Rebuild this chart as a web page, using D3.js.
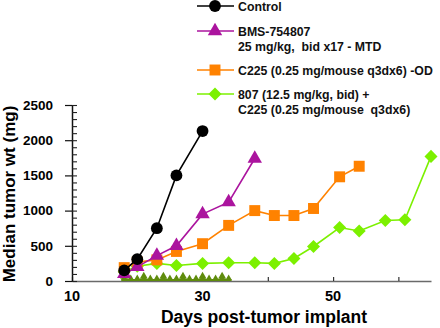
<!DOCTYPE html>
<html>
<head>
<meta charset="utf-8">
<script src="https://cdn.jsdelivr.net/npm/d3@7"></script>
<style>
  body { margin: 0; background: #fff; }
  svg { font-family: "Liberation Sans", Arial, sans-serif; font-weight: bold; }
  text { white-space: pre; }
</style>
</head>
<body>
<div id="chart"></div>
<script>
// Median tumor weight by day for each group
const controlDays = [18, 20, 23, 26, 30];
const controlWt = [150, 310, 750, 1500, 2130];

const bmsDays = [18, 20, 23, 26, 30, 34, 38];
const bmsWt = [100, 200, 360, 500, 950, 1120, 1740];

const c225Days = [18, 20, 23, 26, 30, 34, 38, 41, 44, 47, 51, 54];
const c225Wt = [190, 270, 300, 420, 530, 790, 1000, 930, 930, 1030, 1480, 1630];

const comboDays = [18, 20, 23, 26, 30, 34, 38, 41, 44, 47, 51, 54, 58, 61, 65];
const comboWt = [130, 210, 250, 220, 250, 260, 260, 250, 320, 490, 760, 710, 860, 870, 1770];

// Dosing days shown as small triangles on the baseline
const bidDays = [18, 19, 20, 21, 22, 23, 24, 25, 26, 27, 28, 29, 30, 31, 32, 33, 34];
const q3dDays = [18, 21, 24, 27, 30, 33];

const yTicks = [0, 500, 1000, 1500, 2000, 2500];
const xTicks = [10, 20, 30, 40, 50, 60];
const xLabels = [10, 30, 50];

const W = 440, H = 328;

const svg = d3.select("#chart").append("svg")
  .attr("width", W)
  .attr("height", H);

const x = d3.scaleLinear().domain([10, 65]).range([72, 431]);
const y = d3.scaleLinear().domain([0, 2500]).range([281, 105]);

// x axis
const xAxis = svg.append("g")
  .attr("transform", `translate(0, ${y(0)})`)
  .call(d3.axisTop(x).tickValues(xTicks).tickSize(4).tickSizeOuter(0).tickFormat(""));
xAxis.select("path.domain").attr("stroke", "#6a6a6a").attr("stroke-width", 1.6);
xAxis.selectAll(".tick line").attr("stroke", "#333").attr("stroke-width", 1.2);

svg.append("g")
  .selectAll("text")
  .data(xLabels)
  .enter()
  .append("text")
  .attr("x", (d) => x(d))
  .attr("y", 301)
  .attr("text-anchor", "middle")
  .style("font-size", "14.5px")
  .text((d) => d);

// y axis: major ticks to the left, minor every 100 to the right
const yAxis = svg.append("g")
  .attr("transform", `translate(${x(10)}, 0)`)
  .call(d3.axisLeft(y).tickValues(yTicks).tickFormat(d3.format("d"))
    .tickSize(7).tickSizeOuter(0).tickPadding(12));
yAxis.select("path.domain").attr("stroke", "#111").attr("stroke-width", 1.5);
yAxis.selectAll(".tick line").attr("stroke", "#111").attr("stroke-width", 1.2);
yAxis.selectAll("text")
  .attr("fill", "#000")
  .style("font-size", "13.5px")
  .style("font-weight", "bold")
  .style("font-family", "'Liberation Sans', Arial, sans-serif");

const minor = svg.append("g")
  .attr("transform", `translate(${x(10)}, 0)`)
  .call(d3.axisRight(y).ticks(25).tickSize(5).tickSizeOuter(0).tickFormat(""));
minor.select("path.domain").remove();
minor.selectAll(".tick line").attr("stroke", "#222").attr("stroke-width", 1.1);

// axis titles
svg.append("text")
  .attr("x", 264)
  .attr("y", 323)
  .attr("text-anchor", "middle")
  .style("font-size", "17.5px")
  .text("Days post-tumor implant");

svg.append("text")
  .attr("transform", "translate(15, 194) rotate(-90)")
  .attr("text-anchor", "middle")
  .style("font-size", "17px")
  .text("Median tumor wt (mg)");

// dosing markers on the baseline
const olive = "#5f8c0c";
svg.append("line")
  .attr("x1", x(18) - 3).attr("x2", x(34) + 3)
  .attr("y1", y(0) - 1).attr("y2", y(0) - 1)
  .attr("stroke", olive).attr("stroke-width", 2);

svg.append("g")
  .selectAll("path")
  .data(bidDays)
  .enter()
  .append("path")
  .attr("transform", (d) => `translate(${x(d)}, ${y(0) - 3})`)
  .attr("d", d3.symbol(d3.symbolTriangle, 16))
  .attr("fill", olive);

svg.append("g")
  .selectAll("path")
  .data(q3dDays)
  .enter()
  .append("path")
  .attr("transform", (d) => `translate(${x(d)}, ${y(0) - 4.5})`)
  .attr("d", d3.symbol(d3.symbolTriangle, 28))
  .attr("fill", olive);

// series
const series = [
  { days: comboDays, wt: comboWt, color: "#7cf000", symbol: d3.symbolSquare, rot: 45, size: 85, label: ["807 (12.5 mg/kg, bid) +", "C225 (0.25 mg/mouse  q3dx6)"], ly: 94 },
  { days: c225Days, wt: c225Wt, color: "#ff8200", symbol: d3.symbolSquare, rot: 0, size: 120, label: ["C225 (0.25 mg/mouse q3dx6) -OD"], ly: 70 },
  { days: bmsDays, wt: bmsWt, color: "#ab149e", symbol: d3.symbolTriangle, rot: 0, size: 90, label: ["BMS-754807", "25 mg/kg,  bid x17 - MTD"], ly: 31 },
  { days: controlDays, wt: controlWt, color: "#000000", symbol: d3.symbolCircle, rot: 0, size: 110, label: ["Control"], ly: 6 }
];

const line = d3.line()
  .x((d) => x(d[0]))
  .y((d) => y(d[1]));

series.forEach((s) => {
  const pts = s.days.map((d, i) => [d, s.wt[i]]);
  svg.append("path")
    .datum(pts)
    .attr("fill", "none")
    .attr("stroke", s.color)
    .attr("stroke-width", 1.6)
    .attr("d", line);
  svg.append("g")
    .selectAll("path")
    .data(pts)
    .enter()
    .append("path")
    .attr("transform", (d) => `translate(${x(d[0])}, ${y(d[1])}) rotate(${s.rot})`)
    .attr("d", d3.symbol(s.symbol, s.size))
    .attr("fill", s.color);
});

// legend
const legend = svg.append("g");
series.slice().reverse().forEach((s) => {
  legend.append("line")
    .attr("x1", 197).attr("x2", 234)
    .attr("y1", s.ly).attr("y2", s.ly)
    .attr("stroke", s.color).attr("stroke-width", 1.6);
  legend.append("path")
    .attr("transform", `translate(215, ${s.ly}) rotate(${s.rot})`)
    .attr("d", d3.symbol(s.symbol, s.size))
    .attr("fill", s.color);
  s.label.forEach((t, i) => {
    legend.append("text")
      .attr("x", 238)
      .attr("y", s.ly + 4.5 + i * 15)
      .style("font-size", "12.3px")
      .attr("fill", "#111")
      .text(t);
  });
});
</script>
</body>
</html>
